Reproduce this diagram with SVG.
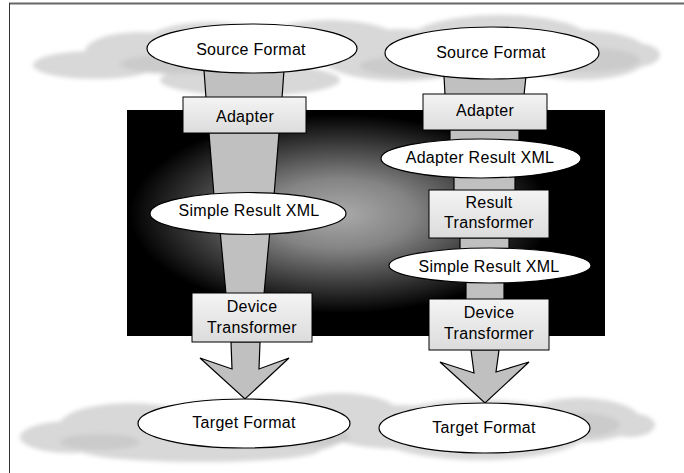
<svg xmlns="http://www.w3.org/2000/svg" width="684" height="473" viewBox="0 0 684 473">
  <defs>
    <radialGradient id="glow" cx="0.445" cy="0.46" r="0.44">
      <stop offset="0" stop-color="#aaaaaa"/>
      <stop offset="0.35" stop-color="#848484"/>
      <stop offset="0.7" stop-color="#3c3c3c"/>
      <stop offset="1" stop-color="#000000"/>
    </radialGradient>
    <linearGradient id="boxFill" x1="0" y1="0" x2="0" y2="1">
      <stop offset="0" stop-color="#f4f4f4"/>
      <stop offset="1" stop-color="#dcdcdc"/>
    </linearGradient>
    <filter id="soft" x="-10%" y="-30%" width="120%" height="160%">
      <feGaussianBlur stdDeviation="2.2"/>
    </filter>
  </defs>
  <style>
    .cloud { fill: #d8d8d8; }
    .cloud-dark { fill: #cbcbcb; }
    .stem { fill: #c0c0c0; stroke: #000; stroke-width: 1.2; stroke-linejoin: miter; }
    .oval { fill: #fff; stroke: #000; stroke-width: 1.2; }
    .box { fill: url(#boxFill); stroke: #000; stroke-width: 1; }
    .label { font-family: "Liberation Sans", Arial, sans-serif; font-size: 16px; letter-spacing: 0.3px; fill: #000; text-anchor: middle; }
  </style>

  <rect width="684" height="473" fill="#fff"/>
  <!-- frame edges -->
  <line x1="9" y1="3.5" x2="684" y2="3.5" stroke="#666" stroke-width="2"/>
  <line x1="9.5" y1="3" x2="9.5" y2="473" stroke="#333" stroke-width="1"/>

  <!-- upper cloud band -->
  <g id="cloud-top" filter="url(#soft)">
    <ellipse class="cloud" cx="95" cy="65" rx="62" ry="14"/>
    <ellipse class="cloud" cx="140" cy="52" rx="55" ry="20"/>
    <ellipse class="cloud" cx="210" cy="48" rx="70" ry="26"/>
    <ellipse class="cloud" cx="250" cy="80" rx="90" ry="16"/>
    <ellipse class="cloud" cx="330" cy="42" rx="70" ry="22"/>
    <ellipse class="cloud" cx="400" cy="55" rx="80" ry="26"/>
    <ellipse class="cloud" cx="500" cy="40" rx="90" ry="25"/>
    <ellipse class="cloud" cx="580" cy="55" rx="70" ry="25"/>
    <ellipse class="cloud" cx="635" cy="55" rx="25" ry="12"/>
    <ellipse class="cloud-dark" cx="180" cy="64" rx="60" ry="10"/>
    <ellipse class="cloud-dark" cx="420" cy="66" rx="60" ry="11"/>
    <ellipse class="cloud-dark" cx="590" cy="60" rx="50" ry="12"/>
  </g>

  <!-- lower cloud band -->
  <g id="cloud-bottom" filter="url(#soft)">
    <ellipse class="cloud" cx="70" cy="437" rx="50" ry="16"/>
    <ellipse class="cloud" cx="130" cy="425" rx="70" ry="22"/>
    <ellipse class="cloud" cx="240" cy="430" rx="110" ry="30"/>
    <ellipse class="cloud" cx="200" cy="450" rx="120" ry="12"/>
    <ellipse class="cloud" cx="340" cy="415" rx="60" ry="22"/>
    <ellipse class="cloud" cx="400" cy="427" rx="80" ry="22"/>
    <ellipse class="cloud" cx="480" cy="430" rx="110" ry="30"/>
    <ellipse class="cloud" cx="580" cy="420" rx="60" ry="22"/>
    <ellipse class="cloud" cx="630" cy="425" rx="25" ry="12"/>
    <ellipse class="cloud-dark" cx="300" cy="437" rx="50" ry="10"/>
    <ellipse class="cloud-dark" cx="580" cy="425" rx="40" ry="12"/>
    <ellipse class="cloud-dark" cx="100" cy="442" rx="40" ry="8"/>
  </g>

  <!-- dark backdrop with central glow -->
  <rect id="backdrop" x="127" y="110" width="478" height="226" fill="url(#glow)"/>

  <!-- connectors: stems and arrows between stages -->
  <g id="connectors">
    <!-- left pipeline -->
    <polygon class="stem" points="204,70 284,70 282,98 206,98"/>
    <polygon class="stem" points="209,133 279,133 274,196 214,196"/>
    <polygon class="stem" points="220,230 270,230 264,294 226,294"/>
    <polygon class="stem" points="231,342 232,369 200,358 245,399 289,358 259,369 260,342"/>
    <!-- right pipeline -->
    <polygon class="stem" points="444,76 526,76 524,95 445,95"/>
    <polygon class="stem" points="450,130 519,130 519,142 450,142"/>
    <polygon class="stem" points="454,175 515,175 515,191 454,191"/>
    <polygon class="stem" points="460,238 509,238 509,251 460,251"/>
    <polygon class="stem" points="466,281 504,281 504,300 466,300"/>
    <polygon class="stem" points="471,350 474,373 440,362 485,403 529,362 496,372 499,350"/>
  </g>

  <!-- left pipeline nodes -->
  <g id="src-left">
    <ellipse class="oval" cx="252" cy="48.5" rx="105" ry="24.5"/>
    <text class="label" x="251" y="55">Source Format</text>
  </g>
  <g id="adapter-left">
    <rect class="box" x="183" y="97" width="123" height="36"/>
    <text class="label" x="245" y="122">Adapter</text>
  </g>
  <g id="simple-left">
    <ellipse class="oval" cx="248" cy="213.5" rx="98" ry="21"/>
    <text class="label" x="249" y="216">Simple Result XML</text>
  </g>
  <g id="device-left">
    <rect class="box" x="192" y="293" width="120" height="49"/>
    <text class="label" x="252" y="312">Device</text>
    <text class="label" x="252" y="333">Transformer</text>
  </g>
  <g id="target-left">
    <ellipse class="oval" cx="244" cy="423.5" rx="106" ry="24.5"/>
    <text class="label" x="244" y="428">Target Format</text>
  </g>

  <!-- right pipeline nodes -->
  <g id="src-right">
    <ellipse class="oval" cx="492" cy="53" rx="107" ry="26"/>
    <text class="label" x="491" y="58">Source Format</text>
  </g>
  <g id="adapter-right">
    <rect class="box" x="423" y="94" width="124" height="36"/>
    <text class="label" x="485" y="116">Adapter</text>
  </g>
  <g id="adapter-xml-right">
    <ellipse class="oval" cx="481" cy="158.5" rx="100" ry="19.5"/>
    <text class="label" x="480" y="163">Adapter Result XML</text>
  </g>
  <g id="result-right">
    <rect class="box" x="429" y="190" width="120" height="48"/>
    <text class="label" x="489" y="208">Result</text>
    <text class="label" x="489" y="228">Transformer</text>
  </g>
  <g id="simple-right">
    <ellipse class="oval" cx="490" cy="265.5" rx="101" ry="17.5"/>
    <text class="label" x="489" y="272">Simple Result XML</text>
  </g>
  <g id="device-right">
    <rect class="box" x="429" y="299" width="120" height="51"/>
    <text class="label" x="489" y="318">Device</text>
    <text class="label" x="489" y="339">Transformer</text>
  </g>
  <g id="target-right">
    <ellipse class="oval" cx="484.5" cy="428" rx="105.5" ry="25"/>
    <text class="label" x="484" y="433">Target Format</text>
  </g>
</svg>
